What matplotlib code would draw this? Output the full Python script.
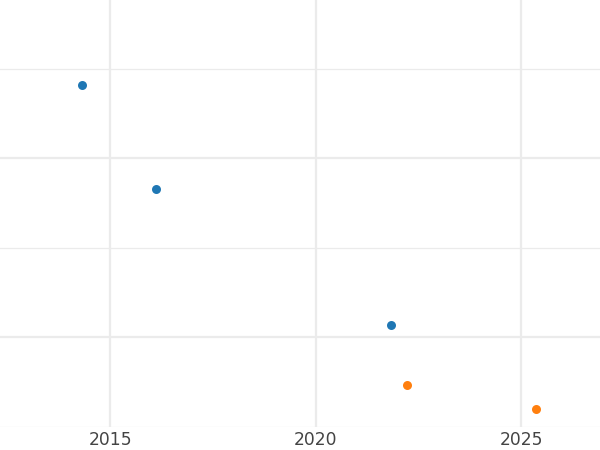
import numpy as np
import matplotlib.pyplot as plt
from matplotlib.ticker import MultipleLocator

# data
blue_x = [2014.32, 2016.12, 2021.84]
blue_y = [2.408, 1.827, 1.067]
orange_x = [2022.22, 2025.36]
orange_y = [0.732, 0.598]

fig = plt.figure(figsize=(6, 4.5), dpi=100)
ax = fig.add_axes([0, 0.051, 1, 0.949])

ax.scatter(blue_x, blue_y, s=42, color='#1f77b4', zorder=3, linewidths=0)
ax.scatter(orange_x, orange_y, s=42, color='#ff7f0e', zorder=3, linewidths=0)

ax.set_xlim(2012.32, 2026.92)
ax.set_ylim(0.497, 2.883)
ax.xaxis.set_major_locator(MultipleLocator(5))
ax.yaxis.set_major_locator(MultipleLocator(1))
ax.yaxis.set_minor_locator(MultipleLocator(0.5))

ax.grid(True, which='major', color='#ebebeb', linewidth=1.6)
ax.grid(True, which='minor', axis='y', color='#ebebeb', linewidth=0.9)
ax.set_axisbelow(True)

for s in ax.spines.values():
    s.set_visible(False)
ax.tick_params(axis='x', length=0, labelsize=12.3, labelcolor='#444444', pad=3)
ax.tick_params(axis='y', which='both', length=0, labelleft=False)

fig.savefig('out.png', dpi=100)
